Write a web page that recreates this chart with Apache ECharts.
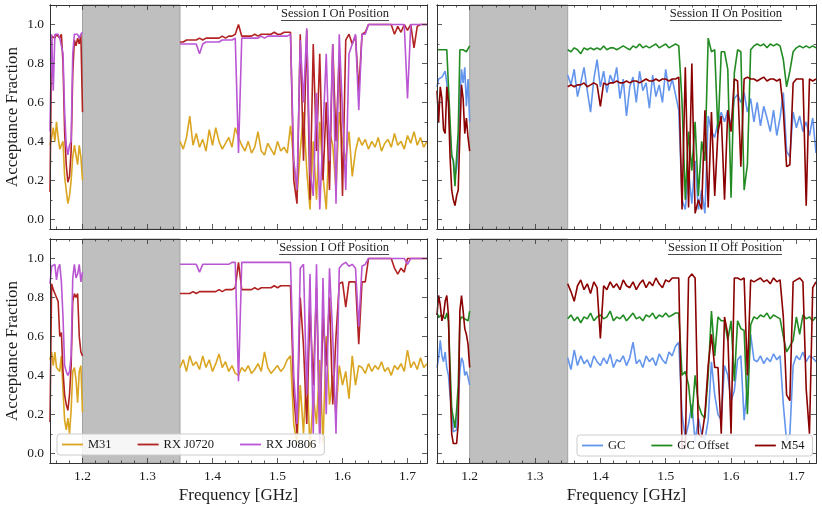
<!DOCTYPE html>
<html>
<head>
<meta charset="utf-8">
<title>Acceptance Fraction</title>
<script src="https://cdn.jsdelivr.net/npm/echarts@6/dist/echarts.min.js"></script>
<style>html,body{margin:0;padding:0;background:#fff;}</style>
</head>
<body>
<div id="main" style="width:822px;height:512px;"></div>
<script>
// sampling grids (GHz): below the masked band and above it
var freqLo = [];
for (var k = 0; k <= 20; k++) freqLo.push(+(1.15 + 0.0025 * k).toFixed(4));
var freqHi = [];
for (var k = 0; k <= 76; k++) freqHi.push(+(1.35 + 0.005 * k).toFixed(3));

var xTicks = [1.2, 1.3, 1.4, 1.5, 1.6, 1.7];
var xMinorTicks = [1.16, 1.18, 1.22, 1.24, 1.26, 1.28, 1.32, 1.34, 1.36, 1.38, 1.42, 1.44, 1.46, 1.48,
  1.52, 1.54, 1.56, 1.58, 1.62, 1.64, 1.66, 1.68, 1.72];
var yTicks = [0, 0.2, 0.4, 0.6, 0.8, 1.0];
var yMinorTicks = [0.1, 0.3, 0.5, 0.7, 0.9];
var maskBand = [1.2, 1.35];

// Session I On Position
var s1OnM31Lo = [0.38,0.42,0.47,0.40,0.50,0.42,0.36,0.35,0.40,0.22,0.15,0.08,0.12,0.20,0.32,0.38,0.37,0.28,0.38,0.32,0.20];
var s1OnM31Hi = [0.40,0.36,0.42,0.53,0.38,0.44,0.37,0.41,0.35,0.46,0.38,0.47,0.40,0.36,0.39,0.42,0.37,0.47,
  0.42,0.38,0.35,0.40,0.34,0.37,0.45,0.35,0.33,0.39,0.36,0.33,0.40,0.35,0.37,0.34,
  0.48,0.30,0.12,0.35,0.55,0.25,0.05,0.40,0.10,0.50,0.22,0.05,0.45,0.38,0.15,0.55,0.40,0.30,0.45,0.22,0.35,0.42,
  0.38,0.41,0.36,0.40,0.37,0.42,0.35,0.39,0.41,0.37,0.44,0.38,0.40,0.36,0.43,0.39,0.45,0.38,0.42,0.37,0.40];
var s1OnJ0720Lo = [0.14,0.94,0.95,0.93,0.95,0.94,0.93,0.95,0.80,0.45,0.28,0.19,0.22,0.35,0.75,0.92,0.89,0.93,0.90,0.95,0.55];
var s1OnJ0720Hi = [0.91,0.91,0.92,0.92,0.92,0.92,0.93,0.92,0.93,0.93,0.93,0.93,0.93,0.94,0.93,0.94,0.94,0.95,
  1.00,0.94,0.94,0.94,0.94,0.95,0.94,0.95,0.95,0.95,0.95,0.96,0.95,0.95,0.96,0.96,
  0.96,0.20,0.08,0.95,0.30,0.97,0.10,0.90,0.35,0.85,0.20,0.60,0.15,0.90,0.40,0.85,0.12,0.92,0.95,0.90,0.94,0.66,0.95,0.96,
  1.00,1.00,1.00,1.00,1.00,1.00,1.00,1.00,0.95,0.99,0.96,1.00,0.97,1.00,0.88,0.99,1.00,1.00,1.00];
var s1OnJ0806Lo = [0.45,0.95,0.66,0.95,0.94,0.95,0.93,0.94,0.85,0.55,0.38,0.33,0.38,0.40,0.85,0.95,0.94,0.95,0.93,0.95,0.96];
var s1OnJ0806Hi = [0.90,0.90,0.90,0.90,0.90,0.90,0.85,0.90,0.91,0.91,0.91,0.91,0.91,0.92,0.92,0.92,0.92,0.93,
  0.34,0.93,0.93,0.93,0.93,0.93,0.93,0.94,0.93,0.94,0.94,0.94,0.94,0.94,0.94,0.94,
  0.95,0.30,0.15,0.92,0.60,0.98,0.25,0.12,0.65,0.05,0.45,0.85,0.30,0.90,0.08,0.95,0.55,0.15,0.85,0.90,0.95,0.56,0.95,0.95,
  1.00,1.00,1.00,1.00,1.00,1.00,1.00,1.00,1.00,1.00,1.00,1.00,0.62,1.00,1.00,1.00,1.00,1.00,1.00];

// Session I Off Position
var s1OffM31Lo = [0.48,0.52,0.45,0.52,0.44,0.43,0.42,0.50,0.32,0.17,0.12,0.18,0.10,0.22,0.42,0.44,0.38,0.26,0.42,0.45,0.21];
var s1OffM31Hi = [0.44,0.48,0.42,0.50,0.45,0.47,0.43,0.50,0.44,0.48,0.42,0.46,0.51,0.44,0.47,0.42,0.45,0.41,
  0.40,0.44,0.42,0.45,0.41,0.43,0.46,0.42,0.52,0.44,0.41,0.43,0.45,0.42,0.44,0.48,
  0.50,0.15,0.05,0.35,0.10,0.45,0.02,0.30,0.15,0.48,0.05,0.60,0.25,0.40,0.20,0.45,0.35,0.42,0.28,0.50,0.35,0.45,
  0.44,0.41,0.46,0.42,0.45,0.43,0.47,0.42,0.44,0.40,0.45,0.43,0.46,0.42,0.53,0.44,0.47,0.43,0.49,0.44,0.46];
var s1OffJ0720Lo = [0.16,0.87,0.84,0.82,0.80,0.78,0.60,0.62,0.42,0.30,0.25,0.22,0.30,0.45,0.78,0.82,0.80,0.82,0.60,0.52,0.50];
var s1OffJ0720Hi = [0.82,0.82,0.82,0.82,0.83,0.82,0.83,0.83,0.83,0.83,0.83,0.83,0.84,0.83,0.84,0.84,0.84,0.85,
  0.98,0.84,0.84,0.84,0.84,0.85,0.84,0.85,0.85,0.85,0.85,0.86,0.85,0.86,0.86,0.86,
  0.86,0.30,0.10,0.80,0.55,0.15,0.75,0.35,0.85,0.10,0.70,0.45,0.80,0.25,0.60,0.87,0.88,0.75,0.88,0.88,0.88,0.56,0.88,0.88,
  1.00,1.00,1.00,1.00,1.00,1.00,1.00,1.00,0.95,0.92,0.95,0.93,1.00,1.00,1.00,1.00,1.00,1.00,1.00];
var s1OffJ0806Lo = [0.87,0.96,0.95,0.97,0.89,0.95,0.97,0.88,0.70,0.45,0.42,0.40,0.42,0.50,0.90,0.97,0.90,0.92,0.97,0.88,0.93];
var s1OffJ0806Hi = [0.97,0.97,0.97,0.97,0.97,0.97,0.93,0.97,0.97,0.97,0.97,0.97,0.97,0.97,0.97,0.97,0.98,0.98,
  0.37,0.98,0.98,0.98,0.98,0.98,0.98,0.98,0.98,0.98,0.98,0.98,0.98,0.98,0.98,0.98,
  0.98,0.40,0.15,0.95,0.97,0.30,0.92,0.10,0.97,0.05,0.90,0.20,0.95,0.60,0.10,0.95,0.97,0.98,0.96,0.97,0.95,0.65,0.96,0.97,
  1.00,1.00,1.00,1.00,1.00,1.00,1.00,1.00,1.00,1.00,1.00,1.00,0.97,1.00,1.00,1.00,1.00,1.00,1.00];

// Session II On Position
var s2OnGCLo = [0.68,0.72,0.73,0.73,0.72,0.76,0.70,0.60,0.44,0.32,0.30,0.22,0.26,0.35,0.62,0.77,0.70,0.78,0.58,0.72,0.50];
var s2OnGCHi = [0.74,0.69,0.77,0.63,0.70,0.78,0.66,0.55,0.72,0.82,0.68,0.76,0.65,0.74,0.70,0.78,0.62,0.72,0.53,0.68,
  0.73,0.60,0.76,0.66,0.70,0.57,0.74,0.63,0.69,0.60,0.77,0.66,0.72,0.64,0.56,
  0.10,0.05,0.25,0.08,0.30,0.05,0.15,0.03,0.53,0.45,0.42,0.50,0.55,0.50,0.56,0.48,0.62,0.64,0.60,0.65,
  0.55,0.62,0.50,0.60,0.48,0.58,0.52,0.45,0.56,0.43,0.52,0.65,0.35,0.32,0.55,0.47,0.53,0.45,0.50,0.43,0.52,0.34];
var s2OnGCOffLo = [0.87,0.86,0.87,0.87,0.87,0.86,0.87,0.86,0.50,0.33,0.30,0.17,0.32,0.45,0.87,0.88,0.87,0.88,0.86,0.87,0.89];
var s2OnGCOffHi = [0.87,0.86,0.88,0.87,0.85,0.88,0.87,0.88,0.87,0.88,0.87,0.89,0.87,0.88,0.88,0.87,0.88,0.89,0.88,0.87,
  0.89,0.88,0.90,0.88,0.89,0.88,0.89,0.90,0.88,0.89,0.90,0.88,0.89,0.90,0.89,
  0.60,0.10,0.45,0.25,0.50,0.12,0.40,0.30,0.93,0.86,0.87,0.44,0.86,0.86,0.77,0.11,0.75,0.87,0.86,0.15,
  0.28,0.87,0.89,0.90,0.89,0.90,0.88,0.90,0.89,0.90,0.89,0.82,0.68,0.76,0.86,0.88,0.89,0.88,0.89,0.88,0.89,0.88];
var s2OnM54Lo = [0.66,0.50,0.68,0.62,0.46,0.44,0.68,0.60,0.32,0.15,0.10,0.07,0.12,0.15,0.44,0.69,0.62,0.44,0.52,0.42,0.35];
var s2OnM54Hi = [0.68,0.69,0.68,0.69,0.69,0.70,0.68,0.69,0.70,0.69,0.58,0.70,0.69,0.70,0.70,0.71,0.70,0.70,0.71,0.70,
  0.71,0.71,0.70,0.71,0.72,0.71,0.71,0.72,0.71,0.72,0.72,0.71,0.72,0.72,0.73,
  0.05,0.78,0.06,0.80,0.03,0.10,0.05,0.56,0.06,0.55,0.12,0.45,0.53,0.10,0.56,0.45,0.72,0.71,0.27,0.72,
  0.73,0.72,0.72,0.71,0.72,0.73,0.71,0.72,0.72,0.71,0.72,0.56,0.27,0.28,0.70,0.72,0.72,0.72,0.07,0.72,0.71,0.72];

// Session II Off Position
var s2OffGCLo = [0.44,0.49,0.58,0.50,0.47,0.52,0.44,0.40,0.30,0.22,0.11,0.10,0.12,0.25,0.42,0.49,0.47,0.40,0.42,0.39,0.35];
var s2OffGCHi = [0.49,0.43,0.53,0.45,0.50,0.46,0.48,0.44,0.50,0.47,0.45,0.49,0.46,0.51,0.44,0.48,0.47,0.50,0.45,0.49,
  0.57,0.46,0.48,0.44,0.50,0.47,0.49,0.45,0.51,0.48,0.46,0.52,0.50,0.55,0.57,
  0.20,0.08,0.15,0.25,0.06,0.18,0.10,0.07,0.17,0.47,0.30,0.20,0.17,0.45,0.40,0.27,0.32,0.48,0.50,0.17,
  0.35,0.61,0.48,0.47,0.50,0.46,0.49,0.47,0.51,0.48,0.50,0.25,0.06,0.10,0.45,0.50,0.48,0.52,0.47,0.50,0.49,0.47];
var s2OffGCOffLo = [0.72,0.70,0.69,0.71,0.70,0.69,0.72,0.68,0.45,0.23,0.24,0.13,0.22,0.35,0.68,0.70,0.71,0.69,0.70,0.68,0.73];
var s2OffGCOffHi = [0.69,0.71,0.68,0.70,0.67,0.70,0.69,0.72,0.68,0.70,0.71,0.69,0.70,0.73,0.68,0.70,0.69,0.71,0.68,0.70,
  0.72,0.69,0.70,0.68,0.71,0.70,0.72,0.69,0.71,0.70,0.72,0.70,0.71,0.72,0.72,
  0.40,0.42,0.35,0.18,0.40,0.25,0.20,0.18,0.40,0.73,0.50,0.70,0.68,0.68,0.58,0.68,0.37,0.68,0.64,0.63,
  0.20,0.66,0.70,0.69,0.71,0.70,0.72,0.69,0.71,0.70,0.69,0.60,0.52,0.55,0.58,0.70,0.61,0.71,0.69,0.70,0.68,0.70];
var s2OffM54Lo = [0.71,0.81,0.76,0.68,0.71,0.78,0.81,0.71,0.35,0.10,0.05,0.06,0.05,0.15,0.73,0.81,0.73,0.64,0.61,0.56,0.44];
var s2OffM54Hi = [0.87,0.83,0.78,0.86,0.89,0.84,0.87,0.82,0.88,0.85,0.59,0.86,0.84,0.88,0.85,0.87,0.84,0.89,0.86,0.85,
  0.88,0.84,0.87,0.89,0.85,0.88,0.86,0.90,0.87,0.85,0.89,0.88,0.90,0.90,0.90,
  0.02,0.03,0.90,0.92,0.90,0.10,0.08,0.20,0.45,0.61,0.44,0.44,0.10,0.70,0.61,0.10,0.90,0.90,0.89,0.90,
  0.40,0.89,0.88,0.89,0.90,0.88,0.89,0.87,0.90,0.88,0.89,0.70,0.30,0.27,0.88,0.89,0.90,0.88,0.33,0.10,0.85,0.88];

var SERIF = '"Liberation Serif", "Times New Roman", serif';
var INK = '#1a1a1a';
var C = { M31: '#daa520', J0720: '#b22222', J0806: '#ba55d3', GC: '#6495ed', GCOff: '#228b22', M54: '#8b0000' };

var panels = [
  { title: 'Session I On Position', left: 50, top: 5, width: 377, firstCol: true, lastRow: false, titleRight: 389,
    lines: [['M31', s1OnM31Lo, s1OnM31Hi, C.M31], ['RX J0720', s1OnJ0720Lo, s1OnJ0720Hi, C.J0720], ['RX J0806', s1OnJ0806Lo, s1OnJ0806Hi, C.J0806]] },
  { title: 'Session II On Position', left: 437, top: 5, width: 379, firstCol: false, lastRow: false, titleRight: 782,
    lines: [['GC', s2OnGCLo, s2OnGCHi, C.GC], ['GC Offset', s2OnGCOffLo, s2OnGCOffHi, C.GCOff], ['M54', s2OnM54Lo, s2OnM54Hi, C.M54]] },
  { title: 'Session I Off Position', left: 50, top: 239, width: 377, firstCol: true, lastRow: true, titleRight: 389,
    lines: [['M31', s1OffM31Lo, s1OffM31Hi, C.M31], ['RX J0720', s1OffJ0720Lo, s1OffJ0720Hi, C.J0720], ['RX J0806', s1OffJ0806Lo, s1OffJ0806Hi, C.J0806]] },
  { title: 'Session II Off Position', left: 437, top: 239, width: 379, firstCol: false, lastRow: true, titleRight: 782,
    lines: [['GC', s2OffGCLo, s2OffGCHi, C.GC], ['GC Offset', s2OffGCOffLo, s2OffGCOffHi, C.GCOff], ['M54', s2OffM54Lo, s2OffM54Hi, C.M54]] }
];

var PANEL_H = 224, X_MIN = 1.15, X_MAX = 1.73, Y_MIN = -0.05, Y_MAX = 1.1;

function pts(lo, hi) {
  var out = [];
  for (var i = 0; i < lo.length; i++) out.push([freqLo[i], lo[i]]);
  out.push([1.275, '-']);
  for (var j = 0; j < hi.length; j++) out.push([freqHi[j], hi[j]]);
  return out;
}

function axis(gi, pos, ticks, len, showLabel, dim) {
  return {
    type: 'value', gridIndex: gi, position: pos, z: 5,
    min: dim === 'x' ? X_MIN : Y_MIN, max: dim === 'x' ? X_MAX : Y_MAX,
    axisLine: { show: true, onZero: false, lineStyle: { color: '#333', width: 1 } },
    axisTick: { show: true, inside: true, length: len, customValues: ticks, lineStyle: { color: '#333', width: 0.8 } },
    axisLabel: { show: showLabel, customValues: ticks, margin: 6, fontFamily: SERIF, fontSize: 13.5, color: INK,
      formatter: function (v) { return v.toFixed(1); } },
    splitLine: { show: false }
  };
}

var grids = [], xAxes = [], yAxes = [], series = [], graphics = [];
var ctx = document.createElement('canvas').getContext('2d');
var TITLE_FONT = '12.5px ' + SERIF;
ctx.font = TITLE_FONT;

panels.forEach(function (p, gi) {
  grids.push({ left: p.left, top: p.top, width: p.width, height: PANEL_H, show: false, containLabel: false, outerBoundsMode: 'none' });

  var xb = axis(gi, 'bottom', xTicks, 5, p.lastRow, 'x');
  if (p.lastRow) {
    xb.name = 'Frequency [GHz]';
    xb.nameLocation = 'middle';
    xb.nameGap = 24;
    xb.nameMoveOverlap = false;
    xb.nameTextStyle = { fontFamily: SERIF, fontSize: 17, color: INK };
  }
  var xIdx = xAxes.length;
  xAxes.push(xb, axis(gi, 'top', xTicks, 5, false, 'x'),
    axis(gi, 'bottom', xMinorTicks, 2.5, false, 'x'), axis(gi, 'top', xMinorTicks, 2.5, false, 'x'));

  var yl = axis(gi, 'left', yTicks, 5, p.firstCol, 'y');
  if (p.firstCol) {
    yl.name = 'Acceptance Fraction';
    yl.nameLocation = 'middle';
    yl.nameGap = 29;
    yl.nameMoveOverlap = false;
    yl.nameTextStyle = { fontFamily: SERIF, fontSize: 17, color: INK };
  }
  var yIdx = yAxes.length;
  yAxes.push(yl, axis(gi, 'right', yTicks, 5, false, 'y'),
    axis(gi, 'left', yMinorTicks, 2.5, false, 'y'), axis(gi, 'right', yMinorTicks, 2.5, false, 'y'));

  p.lines.forEach(function (ln, si) {
    var s = {
      type: 'line', name: ln[0], xAxisIndex: xIdx, yAxisIndex: yIdx,
      data: pts(ln[1], ln[2]), symbol: 'none', showSymbol: false, connectNulls: false,
      lineStyle: { color: ln[3], width: 1.6 }, itemStyle: { color: ln[3] },
      emphasis: { disabled: true }, z: 2 + si * 0.01
    };
    if (si === 0) {
      s.markArea = {
        silent: true,
        itemStyle: { color: '#bfbfbf', borderColor: '#a3a3a3', borderWidth: 1 },
        data: [[{ xAxis: maskBand[0] }, { xAxis: maskBand[1] }]]
      };
    }
    series.push(s);
  });

  var w = ctx.measureText(p.title).width;
  var ty = p.top + 9, ly = p.top + 15.5;
  graphics.push({
    type: 'text', x: p.titleRight, y: ty, z: 20,
    style: { text: p.title, font: TITLE_FONT, fill: INK, align: 'right', textAlign: 'right', verticalAlign: 'middle', textVerticalAlign: 'middle' }
  });
  graphics.push({
    type: 'line', z: 20,
    shape: { x1: p.titleRight - w, y1: ly, x2: p.titleRight, y2: ly },
    style: { stroke: '#333', lineWidth: 0.9 }
  });
});

// legend keys drawn as short line segments
var legendBase = {
  orient: 'horizontal', icon: 'rect', itemWidth: 21, itemHeight: 1.8, itemGap: 26, selectedMode: false,
  backgroundColor: 'rgba(255,255,255,0.85)', borderColor: '#cccccc', borderWidth: 1, borderRadius: 3,
  padding: [4, 8, 4, 5], z: 10,
  textStyle: { fontFamily: SERIF, fontSize: 12.5, color: INK, lineHeight: 13 }
};

var chart = echarts.init(document.getElementById('main'), null, { renderer: 'canvas' });
chart.setOption({
  animation: false,
  backgroundColor: '#ffffff',
  grid: grids,
  xAxis: xAxes,
  yAxis: yAxes,
  legend: [
    Object.assign({}, legendBase, { data: ['M31', 'RX J0720', 'RX J0806'], left: 57, top: 434 }),
    Object.assign({}, legendBase, { data: ['GC', 'GC Offset', 'M54'], left: 577, top: 435 })
  ],
  graphic: graphics,
  series: series
});
</script>
</body>
</html>
